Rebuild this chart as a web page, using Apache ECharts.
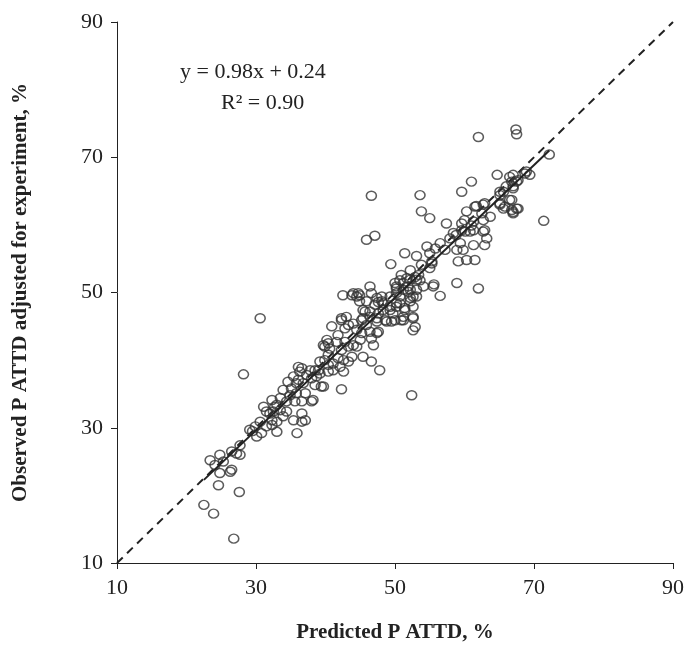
<!DOCTYPE html>
<html>
<head>
<meta charset="utf-8">
<script src="https://cdn.jsdelivr.net/npm/echarts@6/dist/echarts.min.js"></script>
<style>
html,body{margin:0;padding:0;background:#fff;}
#chart{width:689px;height:656px;}
</style>
</head>
<body>
<div id="chart"></div>
<script>
// Predicted P ATTD, % (x) and Observed P ATTD adjusted for experiment, % (y)
var predicted = [
22.5,23.9,26.8,27.6,24.6,24.8,26.3,26.5,24.1,25.3,23.4,24.8,27.7,27.2,26.5,27.7,28.2,30.6,
29.1,29.9,30.6,30.1,30.8,31.5,32.3,33.0,33.0,33.9,31.1,31.5,32.5,33.5,34.4,35.4,36.6,36.6,37.1,35.9,
33.0,33.5,34.4,35.6,36.6,38.0,33.9,34.9,35.8,37.1,35.1,34.6,35.8,36.8,38.5,39.4,38.0,37.3,36.1,36.3,
37.8,39.0,40.4,41.1,39.2,39.9,40.4,39.7,40.4,41.6,
32.3,32.7,32.0,32.3,29.5,35.4,36.1,38.7,39.7,38.2,36.6,38.5,39.2,40.4,41.1,42.1,42.6,41.8,42.6,43.3,43.8,
45.4,46.6,47.8,42.3,52.4,
40.2,39.9,40.6,42.3,42.8,43.3,44.0,44.5,45.0,44.5,45.2,46.4,47.6,46.6,47.4,46.9,41.8,40.9,
42.5,44.0,44.5,44.9,44.9,45.9,46.4,46.6,47.4,48.1,47.1,45.4,46.4,47.6,48.3,49.3,50.2,52.2,51.4,50.0,
50.9,52.6,52.9,48.6,47.4,46.4,45.4,42.3,43.0,43.3,45.9,47.1,51.4,53.1,49.4,52.2,53.4,50.9,50.0,51.2,
52.2,53.1,50.2,51.9,52.6,49.3,50.7,
43.8,44.7,47.6,48.1,48.3,49.3,50.7,50.2,51.9,45.7,45.2,47.4,45.9,42.3,42.8,44.0,48.8,49.5,51.2,
52.6,49.7,51.2,52.6,50.2,51.4,52.6,52.2,53.1,50.2,51.2,52.2,53.1,54.1,55.5,50.7,51.7,52.9,53.6,
53.8,55.0,55.3,56.5,55.6,58.9,62.0,53.6,53.8,55.0,46.6,
57.4,59.6,61.0,62.7,62.7,63.2,62.9,61.3,60.1,58.4,57.9,56.5,59.4,59.8,58.9,57.2,55.8,54.6,55.0,55.3,
59.1,60.3,61.5,60.8,61.3,60.3,61.5,62.7,62.5,63.7,65.1,66.8,67.0,58.8,
62.0,67.4,67.5,72.2,61.0,59.6,64.7,67.0,67.7,68.7,69.4,66.8,67.0,66.0,65.1,66.8,67.7,65.6,65.1,62.9,
61.7,61.3,62.9,59.6,60.0,71.4,
66.5,67.5,68.9,67.0,65.6,65.1,66.5,67.5,67.0,65.8
];
var observed = [
18.6,17.3,13.6,20.5,21.5,23.3,23.5,23.8,24.5,25.0,25.2,26.0,26.0,26.2,26.5,27.4,37.9,46.2,
29.7,30.2,30.9,28.7,29.2,30.2,30.4,30.9,29.4,31.7,33.1,32.4,32.4,32.6,32.4,31.1,32.1,30.9,31.1,29.2,
33.4,34.4,33.9,33.9,33.9,33.9,35.6,34.8,35.1,35.1,35.8,36.8,36.6,36.6,36.3,36.1,37.3,37.8,39.0,38.3,
38.5,38.5,38.3,39.5,39.8,40.0,40.8,42.2,42.5,42.7,
34.1,33.1,32.1,31.1,29.5,37.6,37.1,37.6,36.1,34.1,38.8,38.5,38.0,39.3,38.5,39.0,38.3,40.3,40.0,39.8,40.5,
40.5,39.8,38.5,35.7,34.8,
43.0,42.0,41.7,41.5,42.7,42.0,42.2,42.0,43.0,44.5,44.0,44.2,44.2,43.2,44.0,42.2,43.7,45.0,
49.6,49.9,49.4,49.6,48.7,48.7,50.9,49.9,49.2,48.7,48.2,47.4,47.2,46.9,47.4,47.9,48.4,48.7,47.4,45.9,
45.9,46.2,44.9,45.9,46.2,46.4,46.2,46.2,46.4,45.2,57.8,58.4,55.8,55.4,54.2,53.3,52.6,52.6,51.4,51.4,
51.9,51.9,50.6,50.1,49.4,49.4,49.4,
49.6,49.9,48.6,49.4,48.4,47.4,48.4,49.9,50.9,47.2,45.9,45.7,45.2,45.9,44.7,45.4,45.7,45.7,45.9,
44.4,46.9,46.4,46.4,47.9,47.7,47.9,49.2,49.4,50.9,50.4,50.4,50.4,50.9,50.9,51.8,52.1,52.3,51.8,
54.1,53.6,54.6,49.5,51.2,51.4,50.6,64.4,62.0,61.0,64.3,
60.2,60.2,59.9,60.7,59.0,58.0,57.0,57.0,59.0,58.8,58.0,57.3,57.3,56.3,56.3,56.3,56.5,56.8,55.8,54.3,
54.6,54.8,54.8,59.0,60.5,62.0,62.7,63.0,61.7,61.2,63.0,62.2,61.7,58.5,
73.0,74.1,73.4,70.4,66.4,64.9,67.4,67.4,66.6,67.6,67.4,66.4,65.7,65.7,64.9,63.7,62.4,62.4,63.2,63.2,
62.8,59.2,59.2,59.2,60.7,60.6,
67.1,66.4,67.9,65.4,64.9,64.4,63.7,62.4,61.9,62.7
];
var axisTicks = [10, 30, 50, 70, 90];
var fitSlope = 0.98;
var fitIntercept = 0.24;
var fitRange = [22.5, 72.2];
var equationLines = ['y = 0.98x + 0.24', 'R\u00b2 = 0.90'];

var points = predicted.map(function (x, i) { return [x, observed[i]]; });
var fitLine = fitRange.map(function (x) { return [x, fitSlope * x + fitIntercept]; });
var oneToOne = [[axisTicks[0], axisTicks[0]], [axisTicks[axisTicks.length - 1], axisTicks[axisTicks.length - 1]]];

var FONT = '"Liberation Serif", "Times New Roman", serif';
var chart = echarts.init(document.getElementById('chart'), null, {renderer: 'canvas'});

function axisCommon(name, gap) {
  return {
    type: 'value',
    min: axisTicks[0],
    max: axisTicks[axisTicks.length - 1],
    interval: axisTicks[1] - axisTicks[0],
    name: name,
    nameLocation: 'middle',
    nameGap: gap,
    nameTextStyle: {fontFamily: FONT, fontSize: 21, fontWeight: 'bold', color: '#222'},
    axisLine: {show: true, lineStyle: {color: '#222', width: 1}},
    axisTick: {show: true, inside: false, length: 6, lineStyle: {color: '#222', width: 1}},
    axisLabel: {fontFamily: FONT, fontSize: 22, color: '#222', margin: 14},
    splitLine: {show: false}
  };
}

var xAxis = axisCommon('Predicted P ATTD, %', 59);
var yAxis = axisCommon('Observed P ATTD adjusted for experiment, %', 86);

chart.setOption({
  animation: false,
  backgroundColor: '#fff',
  grid: {left: 117, right: 16, top: 22, bottom: 93, containLabel: false},
  xAxis: xAxis,
  yAxis: yAxis,
  graphic: [
    {type: 'text', left: 180, top: 61, style: {text: equationLines[0], font: '22px ' + FONT, fill: '#222'}},
    {type: 'text', left: 221, top: 92, style: {text: equationLines[1], font: '22px ' + FONT, fill: '#222'}}
  ],
  series: [
    {
      type: 'line', data: oneToOne, symbol: 'none', silent: true,
      lineStyle: {color: '#222', width: 2, type: [8, 6]}, z: 2
    },
    {
      type: 'scatter', data: points, symbol: 'circle', symbolSize: [10, 9],
      itemStyle: {color: 'rgba(255,255,255,0)', borderColor: '#333', borderWidth: 1.5}, z: 3
    },
    {
      type: 'line', data: fitLine, symbol: 'none', silent: true,
      lineStyle: {color: '#222', width: 2}, z: 4
    }
  ]
});
</script>
</body>
</html>
